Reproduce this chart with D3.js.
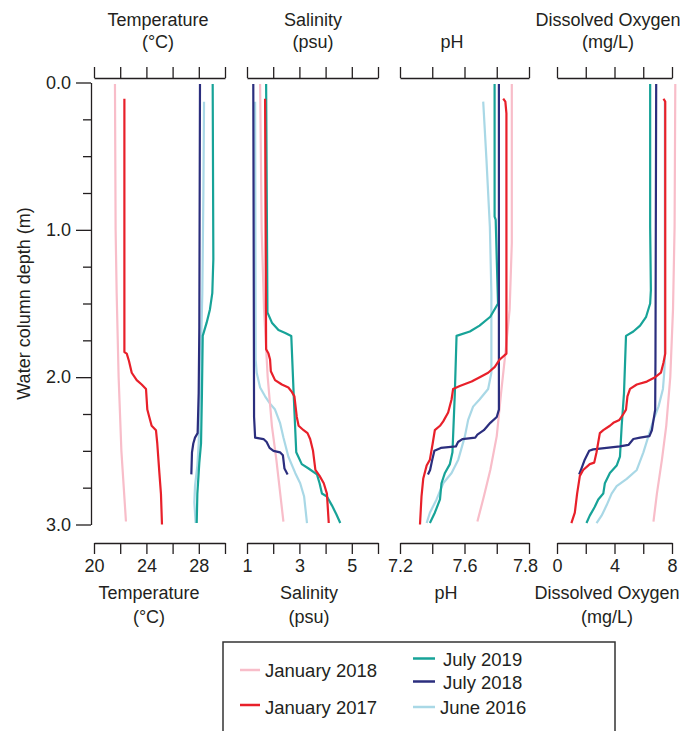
<!DOCTYPE html>
<html>
<head>
<meta charset="utf-8">
<script src="https://cdn.jsdelivr.net/npm/d3@7"></script>
<style>
body { margin: 0; background: #fff; }
svg { display: block; font-family: "Liberation Sans", Arial, sans-serif; }
text { fill: #231f20; font-size: 18px; }
</style>
</head>
<body>
<div id="chart"></div>
<script>
// Survey names and colours, in legend order
var seriesNames = ["January 2018", "January 2017", "July 2019", "July 2018", "June 2016"];
var seriesColors = ["#f8bdc9", "#e8202a", "#17a398", "#2b2e7e", "#a9d8e6"];

// Depth axis (m)
var depthTicks = [0, 0.25, 0.5, 0.75, 1, 1.25, 1.5, 1.75, 2, 2.25, 2.5, 2.75, 3];
var depthLabels = ["0.0", "", "", "", "1.0", "", "", "", "2.0", "", "", "", "3.0"];

// Tick values / labels for each variable
var tempTicks = [20, 22, 24, 26, 28, 30];
var tempTickLabels = ["20", "", "24", "", "28", ""];
var salTicks = [1, 2, 3, 4, 5, 6];
var salTickLabels = ["1", "", "3", "", "5", ""];
var phTicks = [7.2, 7.35, 7.5, 7.65, 7.8];
var phTickLabels = ["7.2", "", "7.6", "", "7.8"];
var doTicks = [0, 2, 4, 6, 8];
var doTickLabels = ["0", "", "4", "", "8"];

// Profiles: [depth (m), value]
var tempJan2018 = [[0.01,21.60],[1.0,21.65],[1.43,21.73],[2.0,21.88],[2.5,22.09],[2.98,22.44]];
var tempJan2017 = [[0.11,22.32],[1.83,22.32],[1.84,22.5],[1.89,22.67],[1.97,22.88],[2.02,23.26],[2.05,23.64],[2.08,23.97],[2.22,24.07],[2.27,24.22],[2.33,24.4],[2.36,24.73],[2.45,24.83],[2.65,24.99],[2.79,25.11],[3.0,25.19]];
var tempJul2019 = [[0.01,29.06],[1.2,29.11],[1.43,29.03],[1.54,28.85],[1.63,28.6],[1.72,28.3],[2.11,28.24],[2.45,28.17],[2.58,28.04],[2.79,27.89],[2.99,27.84]];
var tempJul2018 = [[0.01,28.09],[1.66,28.04],[2.11,27.99],[2.38,27.91],[2.41,27.71],[2.45,27.58],[2.51,27.48],[2.66,27.43]];
var tempJun2016 = [[0.13,28.4],[0.75,28.35],[1.43,28.27],[1.72,28.19],[2.11,28.09],[2.45,27.99],[2.6,27.89],[2.74,27.71],[2.85,27.66],[2.99,27.76]];

var salJan2018 = [[0.01,1.5],[1.0,1.56],[1.54,1.65],[2.0,1.79],[2.33,1.95],[2.56,2.12],[2.98,2.39]];
var salJan2017 = [[0.11,1.69],[1.81,1.73],[1.84,1.82],[1.88,1.88],[1.96,1.91],[2.02,2.07],[2.05,2.33],[2.07,2.58],[2.1,2.71],[2.13,2.81],[2.27,2.9],[2.33,2.97],[2.36,3.16],[2.38,3.31],[2.42,3.41],[2.5,3.52],[2.63,3.61],[2.67,3.77],[2.72,3.93],[2.79,4.05],[2.99,4.12]];
var salJul2019 = [[0.01,1.73],[1.56,1.78],[1.63,1.95],[1.68,2.2],[1.70,2.46],[1.72,2.69],[2.11,2.78],[2.51,2.88],[2.59,3.09],[2.62,3.35],[2.66,3.67],[2.72,3.77],[2.79,3.86],[2.81,4.05],[2.87,4.24],[2.93,4.41],[2.99,4.56]];
var salJul2018 = [[0.01,1.24],[2.27,1.27],[2.41,1.31],[2.42,1.63],[2.44,1.75],[2.48,1.86],[2.5,2.01],[2.51,2.26],[2.53,2.37],[2.62,2.43],[2.66,2.55]];
var salJun2016 = [[0.13,1.31],[1.88,1.33],[1.97,1.37],[2.07,1.5],[2.13,1.69],[2.18,1.88],[2.22,2.07],[2.31,2.26],[2.41,2.39],[2.54,2.58],[2.65,2.84],[2.72,3.03],[2.81,3.18],[2.99,3.29]];

var phJan2018 = [[0.01,7.72],[1.09,7.72],[1.54,7.71],[1.84,7.69],[2.11,7.67],[2.4,7.65],[2.63,7.62],[2.81,7.59],[2.98,7.56]];
var phJan2017 = [[0.11,7.68],[0.13,7.69],[0.21,7.695],[1.84,7.695],[1.88,7.664],[1.93,7.641],[1.97,7.61],[2.0,7.571],[2.03,7.533],[2.06,7.478],[2.08,7.447],[2.15,7.44],[2.24,7.424],[2.3,7.401],[2.33,7.386],[2.36,7.362],[2.45,7.352],[2.56,7.339],[2.6,7.324],[2.69,7.308],[2.81,7.3],[3.0,7.293]];
var phJul2019 = [[0.01,7.64],[0.91,7.64],[0.93,7.645],[1.2,7.65],[1.5,7.656],[1.59,7.62],[1.65,7.57],[1.69,7.525],[1.72,7.463],[2.11,7.455],[2.51,7.444],[2.59,7.432],[2.65,7.409],[2.72,7.393],[2.83,7.386],[2.92,7.362],[2.99,7.339]];
var phJul2018 = [[0.01,7.66],[2.22,7.66],[2.27,7.65],[2.31,7.62],[2.36,7.59],[2.39,7.56],[2.41,7.55],[2.42,7.49],[2.44,7.47],[2.47,7.46],[2.48,7.39],[2.5,7.36],[2.56,7.35],[2.63,7.34],[2.66,7.33]];
var phJun2016 = [[0.13,7.587],[0.52,7.602],[0.98,7.618],[1.43,7.625],[1.97,7.625],[2.08,7.61],[2.15,7.571],[2.2,7.54],[2.29,7.517],[2.4,7.502],[2.56,7.471],[2.65,7.44],[2.72,7.401],[2.83,7.37],[2.92,7.339],[2.99,7.324]];

var doJan2018 = [[0.01,8.23],[0.98,8.18],[1.54,8.07],[2.0,7.88],[2.33,7.6],[2.56,7.3],[2.79,6.95],[2.98,6.71]];
var doJan2017 = [[0.11,7.41],[0.13,7.53],[1.84,7.53],[1.9,7.41],[1.97,7.23],[2.0,6.83],[2.03,6.25],[2.05,5.55],[2.08,5.08],[2.13,4.9],[2.22,4.8],[2.25,4.62],[2.29,4.34],[2.31,3.92],[2.33,3.68],[2.36,3.22],[2.38,2.98],[2.51,2.75],[2.58,2.59],[2.59,2.28],[2.63,1.82],[2.67,1.59],[2.79,1.4],[2.92,1.24],[2.99,1.0]];
var doJul2019 = [[0.01,6.48],[0.98,6.48],[1.41,6.53],[1.5,6.48],[1.59,6.2],[1.65,5.78],[1.69,5.31],[1.72,4.8],[2.11,4.66],[2.33,4.5],[2.54,4.38],[2.6,4.15],[2.65,3.68],[2.72,3.33],[2.79,3.22],[2.83,2.87],[2.88,2.63],[2.94,2.28],[2.99,2.05]];
var doJul2018 = [[0.01,6.9],[1.88,6.85],[2.22,6.83],[2.36,6.6],[2.4,6.43],[2.41,5.78],[2.42,5.31],[2.46,4.97],[2.47,4.38],[2.48,3.45],[2.49,2.52],[2.5,2.24],[2.56,1.93],[2.62,1.7],[2.66,1.54]];
var doJun2016 = [[0.13,7.5],[1.88,7.5],[1.97,7.46],[2.08,7.37],[2.2,7.06],[2.29,6.71],[2.4,6.36],[2.51,6.01],[2.63,5.55],[2.69,4.85],[2.74,4.15],[2.79,3.8],[2.87,3.45],[2.94,3.1],[2.99,2.75]];

var W = 684, H = 731;
var ink = "#231f20";

var svg = d3.select("#chart").append("svg")
    .attr("width", W)
    .attr("height", H);

var y = d3.scaleLinear().domain([0, 3]).range([82.5, 524.5]);

// one panel per variable; profiles listed in legend order
var panels = [
    {domain: [20, 30], range: [94, 225], ticks: tempTicks, labels: tempTickLabels,
     profiles: [tempJan2018, tempJan2017, tempJul2019, tempJul2018, tempJun2016],
     top: ["Temperature", "(°C)"], topX: 158, bottom: ["Temperature", "(°C)"], bottomX: 149},
    {domain: [1, 6], range: [247, 378], ticks: salTicks, labels: salTickLabels,
     profiles: [salJan2018, salJan2017, salJul2019, salJul2018, salJun2016],
     top: ["Salinity", "(psu)"], topX: 313, bottom: ["Salinity", "(psu)"], bottomX: 309},
    {domain: [7.2, 7.8], range: [400, 529], ticks: phTicks, labels: phTickLabels,
     profiles: [phJan2018, phJan2017, phJul2019, phJul2018, phJun2016],
     top: ["", "pH"], topX: 452, bottom: ["pH", ""], bottomX: 446, lastDx: -4},
    {domain: [0, 8], range: [557, 672], ticks: doTicks, labels: doTickLabels,
     profiles: [doJan2018, doJan2017, doJul2019, doJul2018, doJun2016],
     top: ["Dissolved Oxygen", "(mg/L)"], topX: 608, bottom: ["Dissolved Oxygen", "(mg/L)"], bottomX: 607}
];

// June 2016 underneath, January 2017 on top
var drawOrder = [4, 0, 2, 3, 1];

function styleAxis(g) {
    g.attr("font-size", null).attr("font-family", null).attr("color", ink);
    g.selectAll("path, line").attr("stroke-width", 1.3);
}

panels.forEach(function(p) {
    var x = d3.scaleLinear().domain(p.domain).range(p.range);

    svg.append("g")
        .attr("transform", "translate(0,78)")
        .call(d3.axisTop(x).tickValues(p.ticks).tickSize(11).tickSizeOuter(0).tickFormat(""))
        .call(styleAxis);

    var bottomAxis = svg.append("g")
        .attr("transform", "translate(0,543)")
        .call(d3.axisBottom(x).tickValues(p.ticks).tickSize(11).tickSizeOuter(0).tickPadding(5)
              .tickFormat(function(d, i) { return p.labels[i]; }))
        .call(styleAxis);
    if (p.lastDx) {
        bottomAxis.selectAll(".tick text")
            .filter(function(d, i, n) { return i === n.length - 1; })
            .attr("dx", p.lastDx);
    }

    var line = d3.line()
        .x(function(d) { return x(d[1]); })
        .y(function(d) { return y(d[0]); });

    drawOrder.forEach(function(s) {
        svg.append("path")
            .datum(p.profiles[s])
            .attr("fill", "none")
            .attr("stroke", seriesColors[s])
            .attr("stroke-width", 2.2)
            .attr("stroke-linejoin", "round")
            .attr("d", line);
    });

    svg.append("text").attr("x", p.topX).attr("y", 26).attr("text-anchor", "middle").text(p.top[0]);
    svg.append("text").attr("x", p.topX).attr("y", 48).attr("text-anchor", "middle").text(p.top[1]);
    svg.append("text").attr("x", p.bottomX).attr("y", 599).attr("text-anchor", "middle").text(p.bottom[0]);
    svg.append("text").attr("x", p.bottomX).attr("y", 623).attr("text-anchor", "middle").text(p.bottom[1]);
});

// depth axis
var yAxis = svg.append("g")
    .attr("transform", "translate(91,0)")
    .call(d3.axisLeft(y).tickValues(depthTicks).tickSize(8).tickSizeOuter(0).tickPadding(5)
          .tickFormat(function(d, i) { return depthLabels[i]; }))
    .call(styleAxis);
yAxis.selectAll(".tick").filter(function(d, i) { return depthLabels[i] !== ""; })
    .call(function(t) {
        t.select("line").attr("x2", -15);
        t.select("text").attr("x", -20);
    });

svg.append("text")
    .attr("transform", "translate(29.5,303.5) rotate(-90)")
    .attr("text-anchor", "middle")
    .text("Water column depth (m)");

// legend
var legend = svg.append("g");
legend.append("rect")
    .attr("x", 223).attr("y", 642)
    .attr("width", 392).attr("height", 120)
    .attr("fill", "none")
    .attr("stroke", "#333")
    .attr("stroke-width", 1.5);

var legendPos = [
    {x1: 240, x2: 260, tx: 265, ly: 670, ty: 676.5},
    {x1: 240, x2: 260, tx: 265, ly: 705, ty: 714},
    {x1: 413, x2: 435, tx: 443, ly: 658.5, ty: 666},
    {x1: 413, x2: 435, tx: 443, ly: 681.5, ty: 688.5},
    {x1: 413, x2: 435, tx: 440, ly: 707, ty: 713.5}
];

seriesNames.forEach(function(name, i) {
    var lp = legendPos[i];
    legend.append("line")
        .attr("x1", lp.x1).attr("x2", lp.x2)
        .attr("y1", lp.ly).attr("y2", lp.ly)
        .attr("stroke", seriesColors[i])
        .attr("stroke-width", 2.5);
    legend.append("text")
        .attr("x", lp.tx).attr("y", lp.ty)
        .style("font-size", "18.5px")
        .text(name);
});
</script>
</body>
</html>
